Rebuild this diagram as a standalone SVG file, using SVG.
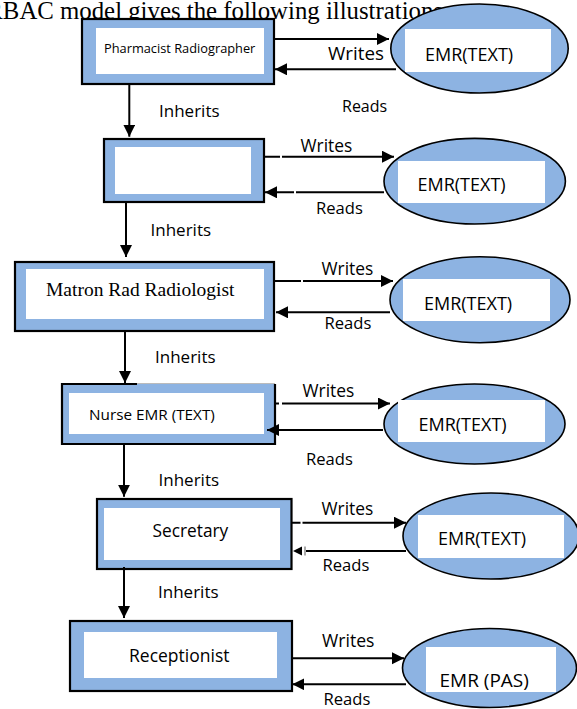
<svg xmlns="http://www.w3.org/2000/svg" width="577" height="709" viewBox="0 0 577 709">
  <style>
    .box { fill: #8DB3E2; stroke: #000; stroke-width: 2.2; }
    .inner { fill: #fff; }
    .store { fill: #8DB3E2; stroke: #000; stroke-width: 1.6; }
    .lbl { font-family: "Open Sans", "Noto Sans", sans-serif; fill: #000; }
    .edge { stroke: #000; stroke-width: 2; fill: none; }
    .title { font-family: "Liberation Serif", "Times New Roman", serif; font-size: 24.8px; fill: #000; }
  </style>
  <defs>
    <marker id="head" markerUnits="userSpaceOnUse" markerWidth="13" markerHeight="13" refX="12" refY="6" orient="auto">
      <path d="M0,0 L12,6 L0,12 Z" fill="#000"/>
    </marker>
  </defs>
  <rect width="577" height="709" fill="#fff"/>

  <text class="title" x="-13.7" y="18.5">RBAC model gives the following illustrations</text>

  <!-- roles -->
  <g id="role-pharmacist">
    <rect class="box" x="82" y="19" width="192" height="65"/>
    <rect class="inner" x="96" y="28" width="168" height="46"/>
    <text class="lbl" x="104" y="53" font-size="12.8">Pharmacist Radiographer</text>
  </g>
  <g id="role-blank">
    <rect class="box" x="104" y="139" width="160" height="63"/>
    <rect class="inner" x="115" y="147" width="136" height="47"/>
  </g>
  <g id="role-matron">
    <rect class="box" x="15" y="262" width="259" height="69"/>
    <rect class="inner" x="26" y="269" width="238" height="50"/>
    <text x="46" y="296" font-family="Liberation Serif, Times New Roman, serif" font-size="19.5">Matron Rad Radiologist</text>
  </g>
  <g id="role-nurse">
    <rect x="62" y="384" width="213" height="60" fill="#8DB3E2"/>
    <path d="M137,384 H62 V444 H275 V384" fill="none" stroke="#000" stroke-width="2.2"/>
    <line x1="137" y1="383.5" x2="275" y2="383.5" stroke="#bbb" stroke-width="1"/>
    <rect class="inner" x="69" y="393" width="195" height="41"/>
    <text class="lbl" x="89" y="420" font-size="15.3">Nurse EMR (TEXT)</text>
  </g>
  <g id="role-secretary">
    <rect class="box" x="97" y="499" width="194.5" height="70"/>
    <rect class="inner" x="104" y="508" width="176" height="52"/>
    <text class="lbl" x="152.5" y="536.7" font-size="17.3">Secretary</text>
  </g>
  <g id="role-receptionist">
    <rect class="box" x="70" y="621" width="222" height="70"/>
    <rect class="inner" x="84" y="632" width="193" height="46"/>
    <text class="lbl" x="129" y="661.7" font-size="17.5">Receptionist</text>
  </g>

  <!-- records -->
  <g id="emr-1">
    <ellipse class="store" cx="479.5" cy="48.5" rx="88.7" ry="44.5"/>
    <rect class="inner" x="405" y="29" width="146" height="43"/>
    <text class="lbl" x="425" y="61" font-size="18">EMR(TEXT)</text>
  </g>
  <g id="emr-2">
    <ellipse class="store" cx="474.7" cy="181.2" rx="90.7" ry="42.8"/>
    <rect class="inner" x="398" y="161" width="147" height="42"/>
    <text class="lbl" x="417.5" y="191" font-size="18">EMR(TEXT)</text>
  </g>
  <g id="emr-3">
    <ellipse class="store" cx="480" cy="299.7" rx="90" ry="43"/>
    <rect class="inner" x="403" y="279" width="147" height="42"/>
    <text class="lbl" x="424" y="310" font-size="18">EMR(TEXT)</text>
  </g>
  <g id="emr-4">
    <ellipse class="store" cx="474.5" cy="424" rx="90.5" ry="40"/>
    <rect class="inner" x="398" y="400" width="147" height="42"/>
    <text class="lbl" x="418.5" y="430.7" font-size="18">EMR(TEXT)</text>
  </g>
  <g id="emr-5">
    <ellipse class="store" cx="491" cy="536" rx="88" ry="43"/>
    <rect class="inner" x="418" y="515" width="146" height="43"/>
    <text class="lbl" x="438" y="545" font-size="18">EMR(TEXT)</text>
  </g>
  <g id="emr-pas">
    <ellipse class="store" cx="489.5" cy="668" rx="87" ry="39.5"/>
    <rect class="inner" x="426" y="647" width="130" height="45"/>
    <text class="lbl" x="439.5" y="686.7" font-size="19">EMR (PAS)</text>
  </g>

  <!-- connectors -->
  <g id="connectors">
    <!-- inheritance -->
    <line class="edge" x1="129.3" y1="84" x2="129.3" y2="136.7" marker-end="url(#head)"/>
    <line class="edge" x1="126" y1="202" x2="126" y2="257" marker-end="url(#head)"/>
    <line class="edge" x1="125" y1="331" x2="125" y2="383" marker-end="url(#head)"/>
    <line class="edge" x1="124" y1="444" x2="124" y2="496.7" marker-end="url(#head)"/>
    <line class="edge" x1="124" y1="567" x2="124" y2="618" marker-end="url(#head)"/>

    <!-- writes -->
    <line class="edge" x1="274" y1="39" x2="389" y2="39" marker-end="url(#head)"/>
    <line class="edge" x1="264" y1="156.7" x2="394" y2="156.7" stroke-dasharray="16 2 200" marker-end="url(#head)"/>
    <line class="edge" x1="274" y1="281" x2="393" y2="281" stroke-dasharray="27 2 200" marker-end="url(#head)"/>
    <line class="edge" x1="275" y1="403.5" x2="390" y2="403.5" stroke-dasharray="4 3 200" marker-end="url(#head)"/>
    <line class="edge" x1="291.5" y1="522.7" x2="406" y2="522.7" stroke-dasharray="9 2 200" marker-end="url(#head)"/>
    <line class="edge" x1="292" y1="658.3" x2="404" y2="658.3" marker-end="url(#head)"/>

    <!-- reads -->
    <line class="edge" x1="396" y1="69.3" x2="275" y2="69.3" marker-end="url(#head)"/>
    <line class="edge" x1="384" y1="192.3" x2="265" y2="192.3" stroke-dasharray="88 2 200" marker-end="url(#head)"/>
    <line class="edge" x1="390" y1="312.3" x2="276" y2="312.3" marker-end="url(#head)"/>
    <line class="edge" x1="383" y1="430" x2="267" y2="430" marker-end="url(#head)"/>
    <line class="edge" x1="406" y1="551" x2="306" y2="551"/>
    <path d="M293,551 L302,546.5 L302,555.5 Z" fill="#000"/>
    <line x1="305" y1="546.5" x2="305" y2="555.5" stroke="#555" stroke-width="1"/>
    <line class="edge" x1="406" y1="684.3" x2="292.3" y2="684.3" marker-end="url(#head)"/>

    <!-- labels -->
    <text class="lbl" x="328" y="60" font-size="18.8">Writes</text>
    <text class="lbl" x="342" y="111.7" font-size="16">Reads</text>
    <text class="lbl" x="159" y="116.7" font-size="17">Inherits</text>

    <text class="lbl" x="300.5" y="152.3" font-size="17.4">Writes</text>
    <text class="lbl" x="316" y="214.3" font-size="16.6">Reads</text>
    <text class="lbl" x="150.5" y="236" font-size="17">Inherits</text>

    <text class="lbl" x="321.5" y="275" font-size="17.4">Writes</text>
    <text class="lbl" x="324.5" y="329" font-size="16.6">Reads</text>
    <text class="lbl" x="155" y="363.3" font-size="17">Inherits</text>

    <text class="lbl" x="302.5" y="397.3" font-size="17.4">Writes</text>
    <text class="lbl" x="306" y="465" font-size="16.6">Reads</text>
    <text class="lbl" x="158.5" y="486" font-size="17">Inherits</text>

    <text class="lbl" x="321.5" y="515" font-size="17.4">Writes</text>
    <text class="lbl" x="322.5" y="570.7" font-size="16.6">Reads</text>
    <text class="lbl" x="158" y="598.3" font-size="17">Inherits</text>

    <text class="lbl" x="322" y="646.7" font-size="17.6">Writes</text>
    <text class="lbl" x="323.5" y="705" font-size="16.6">Reads</text>
  </g>
</svg>
